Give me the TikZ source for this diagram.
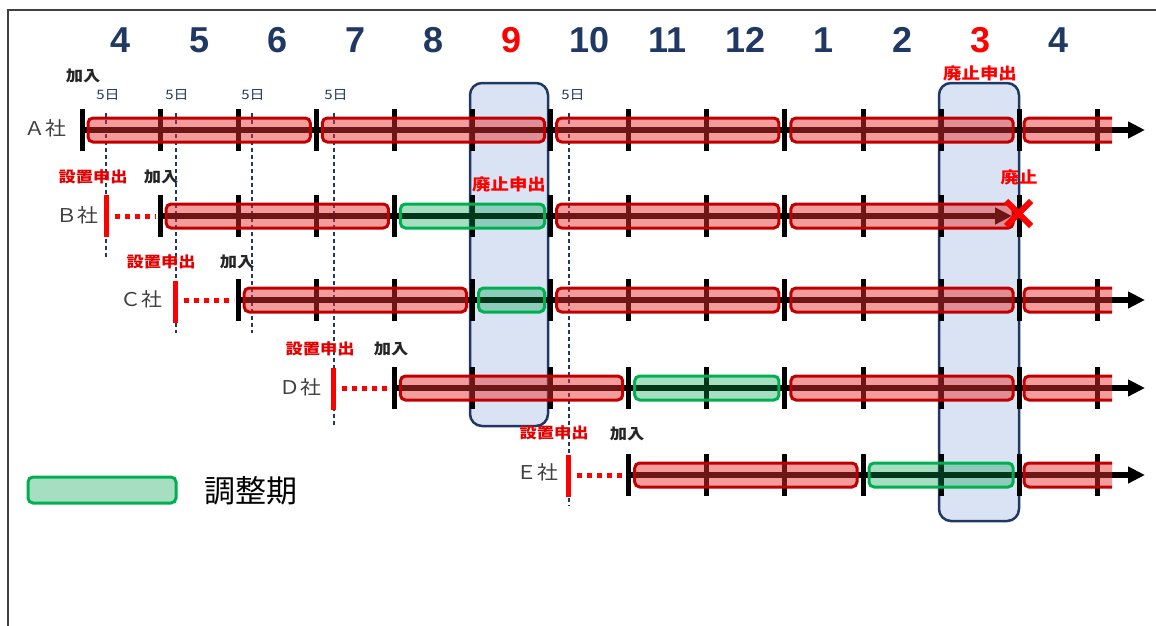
\documentclass[tikz,border=0pt]{standalone}
\usepackage{fontspec}
\setmainfont{Liberation Sans}
\newfontfamily\jp{Noto Sans CJK JP}
\usetikzlibrary{arrows.meta}
\definecolor{navy}{HTML}{1F3864}
\definecolor{barred}{HTML}{E83030}
\definecolor{edgered}{HTML}{C00000}
\definecolor{bargreen}{HTML}{00A050}
\definecolor{edgegreen}{HTML}{00B050}
\definecolor{boxblue}{HTML}{B4C7E7}
\definecolor{framegray}{HTML}{404040}
\newcommand\tkx[1]{82+78.1*#1}
\newcommand\ticks[3]{\foreach \k in {#2,...,#3}{\draw[tickline] ({\tkx{\k}},#1-21) -- ({\tkx{\k}},#1+21);}}
\newcommand\rbar[3]{\draw[redbar] ({\tkx{#2}+6},#1-12) rectangle ({\tkx{#3}-6},#1+12);}
\newcommand\gbar[3]{\draw[greenbar] ({\tkx{#2}+6},#1-12) rectangle ({\tkx{#3}-6},#1+12);}
\newcommand\obar[1]{\draw[redbar] (1112,#1-12) -- (1024,#1-12) -- (1024,#1+12) -- (1112,#1+12);}
\begin{document}
\begin{tikzpicture}[x=1pt,y=-1pt,
  month/.style={font=\fontsize{36}{36}\selectfont\bfseries, text=navy, inner sep=0},
  redmonth/.style={month, text=red},
  lbl/.style={font=\jp\bfseries\fontsize{15}{15}\selectfont, xscale=1.15, inner sep=0},
  joinlbl/.style={lbl, text=black!85},
  applbl/.style={lbl, text=red!90!black},
  endlbl/.style={lbl, text=red, font=\jp\bfseries\fontsize{16}{16}\selectfont},
  daylbl/.style={font=\jp\fontsize{13}{13}\selectfont, xscale=1.15, inner sep=0, text=navy},
  company/.style={font=\jp\fontsize{19}{19}\selectfont, xscale=1.1, inner sep=0, text=black!75},
  dayline/.style={navy, line width=2, dash pattern=on 4pt off 3pt},
  tickline/.style={black, line width=5},
  axisline/.style={black, line width=5.5},
  axisarrow/.style={axisline, -{Triangle[length=17pt,width=16pt]}},
  appmark/.style={red, line width=5},
  appdots/.style={red, line width=5, dash pattern=on 5pt off 5pt},
  redbar/.style={draw=edgered, line width=3, fill=barred, fill opacity=.48, rounded corners=5},
  greenbar/.style={draw=edgegreen, line width=3, fill=bargreen, fill opacity=.35, rounded corners=5},
  hibox/.style={draw=navy, line width=2.5, fill=boxblue, fill opacity=.5, rounded corners=12},
  cross/.style={red, line width=6}
]
\useasboundingbox (0,0) rectangle (1156,626);
% frame
\draw[framegray, line width=2] (1156,10) -- (8,10) -- (8,626);

% months
\foreach \m [count=\i from 0] in {4,5,6,7,8,9,10,11,12,1,2,3,4}{
  \ifnum\i=5 \node[redmonth] (m\i) at ({\tkx{\i}+39},40) {\m};
  \else\ifnum\i=11 \node[redmonth] (m\i) at ({\tkx{\i}+39},40) {\m};
  \else \node[month] (m\i) at ({\tkx{\i}+39},40) {\m};\fi\fi
}

% highlight boxes
\draw[hibox] (470,83) rectangle (548,426);
\draw[hibox] (939,83) rectangle (1019,521);

% day lines
\draw[dayline] (106,113) -- (106,258);
\draw[dayline] (176,113) -- (176,333);
\draw[dayline] (252,113) -- (252,333);
\draw[dayline] (334,113) -- (334,427);
\draw[dayline] (569,113) -- (569,506);

% ---- A row (y=130)
\draw[axisarrow] (82,130) -- (1145,130);
\ticks{130}{0}{13}
\rbar{130}{0}{3}\rbar{130}{3}{6}\rbar{130}{6}{9}\rbar{130}{9}{12}\obar{130}

% ---- B row (y=216)
\draw[axisarrow] (160,216) -- (1012,216);
\ticks{216}{1}{12}
\draw[appmark] (106,195) -- (106,237);
\draw[appdots] (115,216) -- (156,216);
\rbar{216}{1}{4}\gbar{216}{4}{6}\rbar{216}{6}{9}\rbar{216}{9}{12}
\draw[cross] (1006,201) -- (1031,226);
\draw[cross] (1006,226) -- (1031,201);

% ---- C row (y=300)
\draw[axisarrow] (238,300) -- (1145,300);
\ticks{300}{2}{13}
\draw[appmark] (175,281) -- (175,323);
\draw[appdots] (184,300) -- (234,300);
\rbar{300}{2}{5}\gbar{300}{5}{6}\rbar{300}{6}{9}\rbar{300}{9}{12}\obar{300}

% ---- D row (y=388)
\draw[axisarrow] (394,388) -- (1145,388);
\ticks{388}{4}{13}
\draw[appmark] (333,368) -- (333,410);
\draw[appdots] (342,388) -- (390,388);
\rbar{388}{4}{7}\gbar{388}{7}{9}\rbar{388}{9}{12}\obar{388}

% ---- E row (y=475)
\draw[axisarrow] (628,475) -- (1145,475);
\ticks{475}{7}{13}
\draw[appmark] (568,455) -- (568,497);
\draw[appdots] (577,475) -- (624,475);
\rbar{475}{7}{10}\gbar{475}{10}{12}\obar{475}

% labels
\node[company] (la) at (45,128) {Ａ社};
\node[company] (lb) at (77,215) {Ｂ社};
\node[company] (lc) at (141,299) {Ｃ社};
\node[company] (ld) at (300,387) {Ｄ社};
\node[company] (le) at (537,472) {Ｅ社};

\node[joinlbl] (ja) at (83,76) {加入};
\node[daylbl] (d1) at (108,95) {5日};
\node[daylbl] (d2) at (177,95) {5日};
\node[daylbl] (d3) at (253,95) {5日};
\node[daylbl] (d4) at (336,95) {5日};
\node[daylbl] (d5) at (573,95) {5日};

\node[applbl] (sb) at (93,177) {設置申出};
\node[joinlbl] (jb) at (161,177) {加入};
\node[applbl] (sc) at (161,262) {設置申出};
\node[joinlbl] (jc) at (237,262) {加入};
\node[applbl] (sd) at (320,349) {設置申出};
\node[joinlbl] (jd) at (391,349) {加入};
\node[applbl] (se) at (554,433) {設置申出};
\node[joinlbl] (je) at (627,434) {加入};

\node[endlbl] (hb) at (509,184) {廃止申出};
\node[endlbl] (ha) at (980,73) {廃止申出};
\node[endlbl] (hx) at (1019,177) {廃止};

% legend
\draw[greenbar] (28,477) rectangle (176,503);
\node[font=\jp\fontsize{31}{31}\selectfont, inner sep=0] (leg) at (251,491) {調整期};
\end{tikzpicture}
\end{document}
